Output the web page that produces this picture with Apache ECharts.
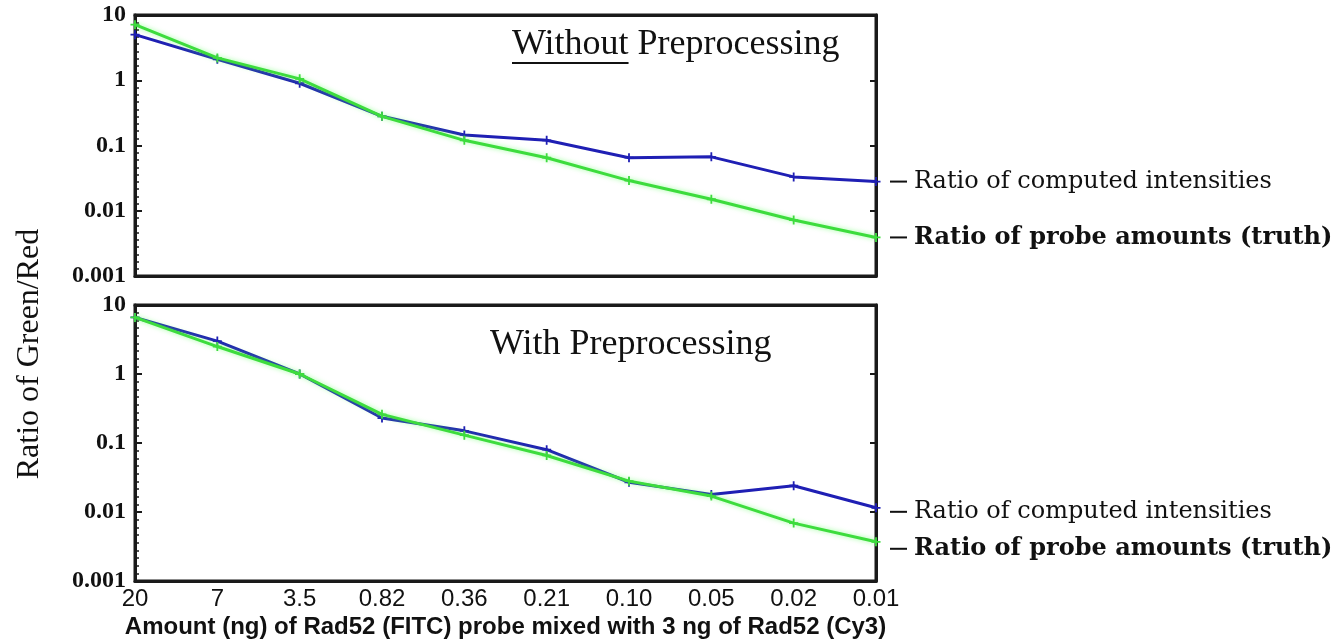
<!DOCTYPE html>
<html><head><meta charset="utf-8">
<script src="https://cdn.jsdelivr.net/npm/echarts@6/dist/echarts.min.js"></script>
<style>html,body{margin:0;padding:0;background:#fff}#c{width:1343px;height:640px}</style>
</head><body><div id="c"></div>
<script>
const categories = ['20','7','3.5','0.82','0.36','0.21','0.10','0.05','0.02','0.01'];
const yTickLabels = ['0.001','0.01','0.1','1','10'];
const topComputed = [5.0, 2.1, 0.9, 0.28, 0.145, 0.12, 0.065, 0.067, 0.033, 0.028];
const topTruth = [7.1, 2.2, 1.05, 0.28, 0.12, 0.065, 0.029, 0.015, 0.0072, 0.0039];
const bottomComputed = [6.6, 3.0, 1.0, 0.23, 0.15, 0.08, 0.027, 0.018, 0.024, 0.0115];
const bottomTruth = [6.6, 2.5, 1.0, 0.26, 0.13, 0.066, 0.028, 0.017, 0.0069, 0.0037];
const topTitleA = 'Without';
const topTitleB = 'Preprocessing';
const bottomTitle = 'With Preprocessing';
const legendComputed = 'Ratio of computed intensities';
const legendTruth = 'Ratio of probe amounts (truth)';
const xTitle = 'Amount (ng) of Rad52 (FITC) probe mixed with 3 ng of Rad52 (Cy3)';
const yTitle = 'Ratio of Green/Red';

const BLUE = '#1f1fb4', GREEN = '#3ddc3d', INK = '#1a1a1a';
const plus = 'path://M4,0h2v4h4v2h-4v4h-2v-4h-4v-2h4z';
const chart = echarts.init(document.getElementById('c'), null, {renderer: 'canvas'});

function yAx(gi, right) {
  return {
    type: 'log', logBase: 10, min: 0.001, max: 10, interval: 1, gridIndex: gi,
    position: right ? 'right' : 'left',
    axisLine: {show: true, lineStyle: {color: INK, width: 3}},
    axisTick: {show: true, inside: true, length: right ? 6 : 7, lineStyle: {color: INK, width: 2}},
    splitLine: {show: false},
    axisLabel: {show: !right, margin: 9, color: '#111', fontFamily: 'Liberation Serif', fontWeight: 'bold', fontSize: 24,
      formatter: v => { const e = Math.round(Math.log10(v)); return yTickLabels[e + 3]; }}
  };
}
// decoration-only axis carrying the minor ticks along the left edge (exponent space)
function minorAx(gi) {
  return {
    type: 'value', min: -3, max: 1, interval: 1, gridIndex: gi, position: 'left',
    axisLine: {show: false}, axisLabel: {show: false}, splitLine: {show: false},
    axisTick: {show: false, inside: true},
    minorTick: {show: true, splitNumber: 9, length: 4, lineStyle: {color: INK, width: 1.5}}
  };
}
function xAx(gi, labels) {
  return {
    type: 'category', data: categories, boundaryGap: false, gridIndex: gi,
    axisLine: {show: true, onZero: false, lineStyle: {color: INK, width: 3}},
    axisTick: {show: false},
    splitLine: {show: false},
    axisLabel: {show: labels, interval: 0, margin: 6, color: '#111', fontFamily: 'Liberation Sans', fontSize: 24},
    name: labels ? xTitle : '', nameLocation: 'middle', nameGap: 34,
    nameTextStyle: {color: '#111', fontFamily: 'Liberation Sans', fontWeight: 'bold', fontSize: 24}
  };
}
function line(data, color, xi, yi, glow) {
  return {
    type: 'line', data: data, xAxisIndex: xi, yAxisIndex: yi,
    symbol: plus, symbolSize: 9, showSymbol: true,
    itemStyle: {color: color},
    lineStyle: glow ? {color: color, width: 3, shadowBlur: 5, shadowColor: 'rgba(90,255,90,0.6)'} : {color: color, width: 3},
    animation: false, z: glow ? 3 : 2
  };
}

chart.setOption({
  backgroundColor: '#fff',
  animation: false,
  grid: [
    {left: 135, top: 15, width: 741, height: 261, show: true, borderColor: INK, borderWidth: 3, backgroundColor: '#fff'},
    {left: 135, top: 305, width: 741, height: 277, show: true, borderColor: INK, borderWidth: 3, backgroundColor: '#fff'}
  ],
  xAxis: [xAx(0, false), xAx(1, true), Object.assign(xAx(0,false),{position:'top'}), Object.assign(xAx(1,false),{position:'top'})],
  yAxis: [yAx(0, false), yAx(1, false), yAx(0, true), yAx(1, true), minorAx(0), minorAx(1)],
  series: [
    line(topComputed, BLUE, 0, 0, false),
    line(topTruth, GREEN, 0, 0, true),
    line(bottomComputed, BLUE, 1, 1, false),
    line(bottomTruth, GREEN, 1, 1, true)
  ]
});

const ctx = document.createElement('canvas').getContext('2d');
ctx.font = '36px "Liberation Serif"';
const wA = ctx.measureText(topTitleA).width;
const wSp = ctx.measureText(' ').width;
const tx = 512;

const last = categories.length - 1;
function py(gi, v) { return chart.convertToPixel({xAxisIndex: gi, yAxisIndex: gi}, [last, v])[1]; }
const ann = [];
function addAnn(y, text, bold) {
  ann.push({type: 'line', shape: {x1: 890, y1: y, x2: 907, y2: y}, style: {stroke: '#111', lineWidth: 2}});
  ann.push({type: 'text', x: 914, y: y, style: {text: text, fill: '#111', font: (bold ? 'bold ' : '') + '24px "DejaVu Serif"', verticalAlign: 'middle', align: 'left'}});
}
addAnn(py(0, topComputed[last]), legendComputed, false);
addAnn(py(0, topTruth[last]), legendTruth, true);
addAnn(py(1, bottomComputed[last]) + 4, legendComputed, false);
addAnn(py(1, bottomTruth[last]) + 7, legendTruth, true);

const tfont = '36px "Liberation Serif"';
chart.setOption({
  graphic: ann.concat([
    {type: 'text', x: tx, y: 45, style: {text: topTitleA, fill: '#111', font: tfont, verticalAlign: 'middle', align: 'left'}},
    {type: 'line', shape: {x1: tx, y1: 63, x2: tx + wA, y2: 63}, style: {stroke: '#111', lineWidth: 2}},
    {type: 'text', x: tx + wA + wSp, y: 45, style: {text: topTitleB, fill: '#111', font: tfont, verticalAlign: 'middle', align: 'left'}},
    {type: 'text', x: 490, y: 345, style: {text: bottomTitle, fill: '#111', font: tfont, verticalAlign: 'middle', align: 'left'}},
    {type: 'text', x: 30, y: 354, rotation: Math.PI / 2, style: {text: yTitle, fill: '#111', font: '32px "Liberation Serif"', align: 'center', verticalAlign: 'middle'}}
  ])
});
</script></body></html>
